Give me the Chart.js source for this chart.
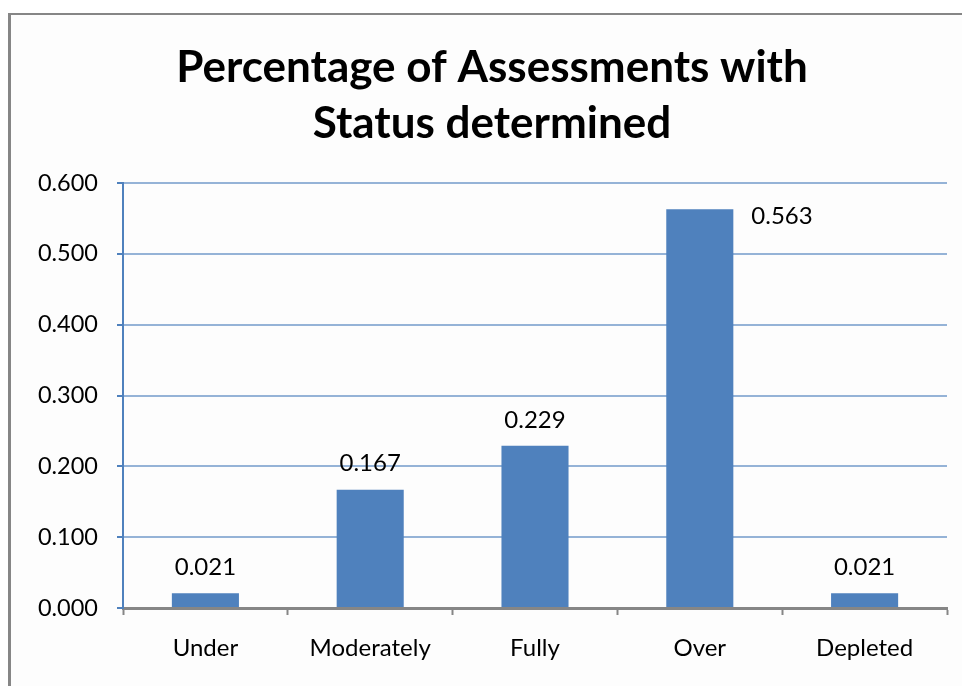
<!DOCTYPE html>
<html>
<head>
<meta charset="utf-8">
<script src="https://cdn.jsdelivr.net/npm/chart.js@4.4.1/dist/chart.umd.min.js"></script>
<style>
  html, body { margin: 0; padding: 0; background: #ffffff; }
  #wrap { width: 962px; height: 686px; position: relative; }
</style>
</head>
<body>
<div id="wrap"><canvas id="c" width="962" height="686"></canvas></div>
<script>
const categories = ['Under', 'Moderately', 'Fully', 'Over', 'Depleted'];
const values = [0.021, 0.167, 0.229, 0.563, 0.021];
const titleLines = ['Percentage of Assessments with', 'Status determined'];
const yMin = 0, yMax = 0.6, yStep = 0.1;

const FONT = 'Lato, "Open Sans", sans-serif';

const frame = {
  id: 'frame',
  beforeDraw(chart) {
    const ctx = chart.ctx;
    ctx.save();
    ctx.fillStyle = '#ffffff';
    ctx.fillRect(0, 0, chart.width, chart.height);
    ctx.fillStyle = '#fdfdfd';
    ctx.fillRect(10, 14, chart.width - 10, chart.height - 14);
    ctx.fillStyle = '#868686';
    ctx.fillRect(8, 13, chart.width - 8, 2);
    ctx.fillRect(8, 13, 3, chart.height - 13);
    ctx.restore();
  }
};

const barLabels = {
  id: 'barLabels',
  afterDatasetsDraw(chart) {
    const ctx = chart.ctx;
    const meta = chart.getDatasetMeta(0);
    ctx.save();
    ctx.font = '24px ' + FONT;
    ctx.fillStyle = '#000000';
    ctx.textBaseline = 'middle';
    meta.data.forEach((bar, i) => {
      const txt = values[i].toFixed(3);
      const aboveY = bar.y - 26;
      if (aboveY - 12 < chart.chartArea.top) {
        ctx.textAlign = 'left';
        ctx.fillText(txt, bar.x + bar.width / 2 + 18, bar.y + 7);
      } else {
        ctx.textAlign = 'center';
        ctx.fillText(txt, bar.x, aboveY);
      }
    });
    ctx.restore();
  }
};

new Chart(document.getElementById('c'), {
  type: 'bar',
  data: {
    labels: categories,
    datasets: [{
      data: values,
      backgroundColor: '#4f81bd',
      borderWidth: 0,
      categoryPercentage: 1.0,
      barPercentage: 0.407
    }]
  },
  options: {
    responsive: false,
    animation: false,
    devicePixelRatio: 1,
    layout: { padding: { left: 37, right: 15, top: 0, bottom: 0 } },
    plugins: {
      legend: { display: false },
      tooltip: { enabled: false },
      title: {
        display: true,
        text: titleLines,
        color: '#000000',
        font: { family: FONT, size: 44, weight: 'bold', lineHeight: 1.273 },
        padding: { top: 40, bottom: 31 }
      }
    },
    scales: {
      x: {
        afterFit(scale) { scale.height = 78; },
        border: { color: '#868686', width: 3 },
        grid: {
          offset: true,
          drawOnChartArea: false,
          drawTicks: true,
          tickLength: 7,
          tickColor: '#868686',
          tickWidth: 2
        },
        ticks: {
          color: '#000000',
          font: { family: FONT, size: 24 },
          padding: 19
        }
      },
      y: {
        min: yMin,
        max: yMax,
        afterFit(scale) { scale.width = 86; },
        border: { color: '#4f81bd', width: 2 },
        grid: {
          color: '#95b3d7',
          lineWidth: 2,
          tickLength: 6,
          tickColor: '#4f81bd',
          tickWidth: 2
        },
        ticks: {
          stepSize: yStep,
          color: '#000000',
          font: { family: FONT, size: 23.5 },
          padding: 19,
          callback: (v) => Number(v).toFixed(3)
        }
      }
    }
  },
  plugins: [frame, barLabels]
});
</script>
</body>
</html>
